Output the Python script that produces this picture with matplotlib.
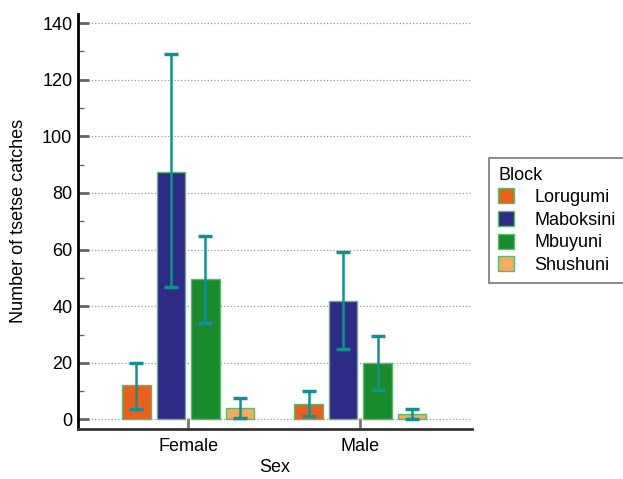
import numpy as np
import matplotlib
matplotlib.use('Agg')
from matplotlib import pyplot as plt
from matplotlib.patches import Patch
from matplotlib.ticker import MultipleLocator

plt.rcParams['font.family'] = ['Liberation Sans', 'DejaVu Sans']

sexes = ['Female', 'Male']
blocks = ['Lorugumi', 'Maboksini', 'Mbuyuni', 'Shushuni']
means = {
    'Lorugumi': [12.1, 5.6],
    'Maboksini': [87.5, 41.9],
    'Mbuyuni': [49.5, 19.8],
    'Shushuni': [4.1, 2.0],
}
upper = {
    'Lorugumi': [20.0, 10.1],
    'Maboksini': [129.1, 59.3],
    'Mbuyuni': [64.8, 29.4],
    'Shushuni': [7.6, 3.8],
}
lower = {
    'Lorugumi': [3.6, 1.3],
    'Maboksini': [46.7, 24.9],
    'Mbuyuni': [33.9, 10.4],
    'Shushuni': [0.6, 0.0],
}
colors = ['#E8601C', '#2E2B84', '#1A8A2F', '#F2AC62']
edge = '#5DB86C'
errc = '#14918F'
fs = 13

fig = plt.figure(figsize=(6.23, 4.79), dpi=100)
ax = fig.add_axes([0.125, 0.1054, 0.633, 0.866])

x = np.arange(len(sexes))
step = 0.2
width = 0.165
for i, b in enumerate(blocks):
    pos = x + (i - 1.5) * step
    m = np.array(means[b])
    lo = m - np.array(lower[b])
    hi = np.array(upper[b]) - m
    ax.bar(pos, m, width=width, color=colors[i], edgecolor=edge, linewidth=1.0, zorder=3)
    ax.errorbar(pos, m, yerr=[lo, hi], fmt='none', ecolor=errc, elinewidth=1.8,
                capsize=5, capthick=2.5, zorder=4)

ax.set_xlim(-0.64, 1.65)
ax.set_ylim(-3.2, 143.3)
ax.set_xticks(x)
ax.set_xticklabels(sexes, fontsize=fs)
ax.yaxis.set_major_locator(MultipleLocator(20))
ax.yaxis.set_minor_locator(MultipleLocator(10))
ax.tick_params(axis='y', which='major', direction='in', length=8, width=2, color='#666666',
               labelsize=fs, pad=4)
ax.tick_params(axis='y', which='minor', direction='in', length=4, width=1, color='#666666')
ax.tick_params(axis='x', direction='in', length=8, width=2, color='#777777', labelsize=fs, pad=7)
ax.grid(axis='y', which='major', linestyle=':', color='#999999', linewidth=0.9, zorder=0)

ax.spines['top'].set_visible(False)
ax.spines['right'].set_visible(False)
ax.spines['left'].set_linewidth(2)
ax.spines['bottom'].set_linewidth(2)
ax.spines['bottom'].set_color('#333333')

ax.set_xlabel('Sex', fontsize=fs, labelpad=3)
ax.set_ylabel('Number of tsetse catches', fontsize=fs, labelpad=11)

handles = [Patch(facecolor=c, edgecolor=edge, linewidth=1.0, label=b) for b, c in zip(blocks, colors)]
leg = fig.legend(handles=handles, title='Block', loc='upper left', bbox_to_anchor=(0.785, 0.671),
                 fontsize=fs, title_fontsize=fs, frameon=True, fancybox=False,
                 edgecolor='#555555', handlelength=0.9, handleheight=0.9, handletextpad=1.1,
                 labelspacing=0.27, borderpad=0.5, borderaxespad=0)
leg._legend_box.align = 'left'
leg.get_frame().set_linewidth(1.2)

fig.savefig('out.png', dpi=100)
